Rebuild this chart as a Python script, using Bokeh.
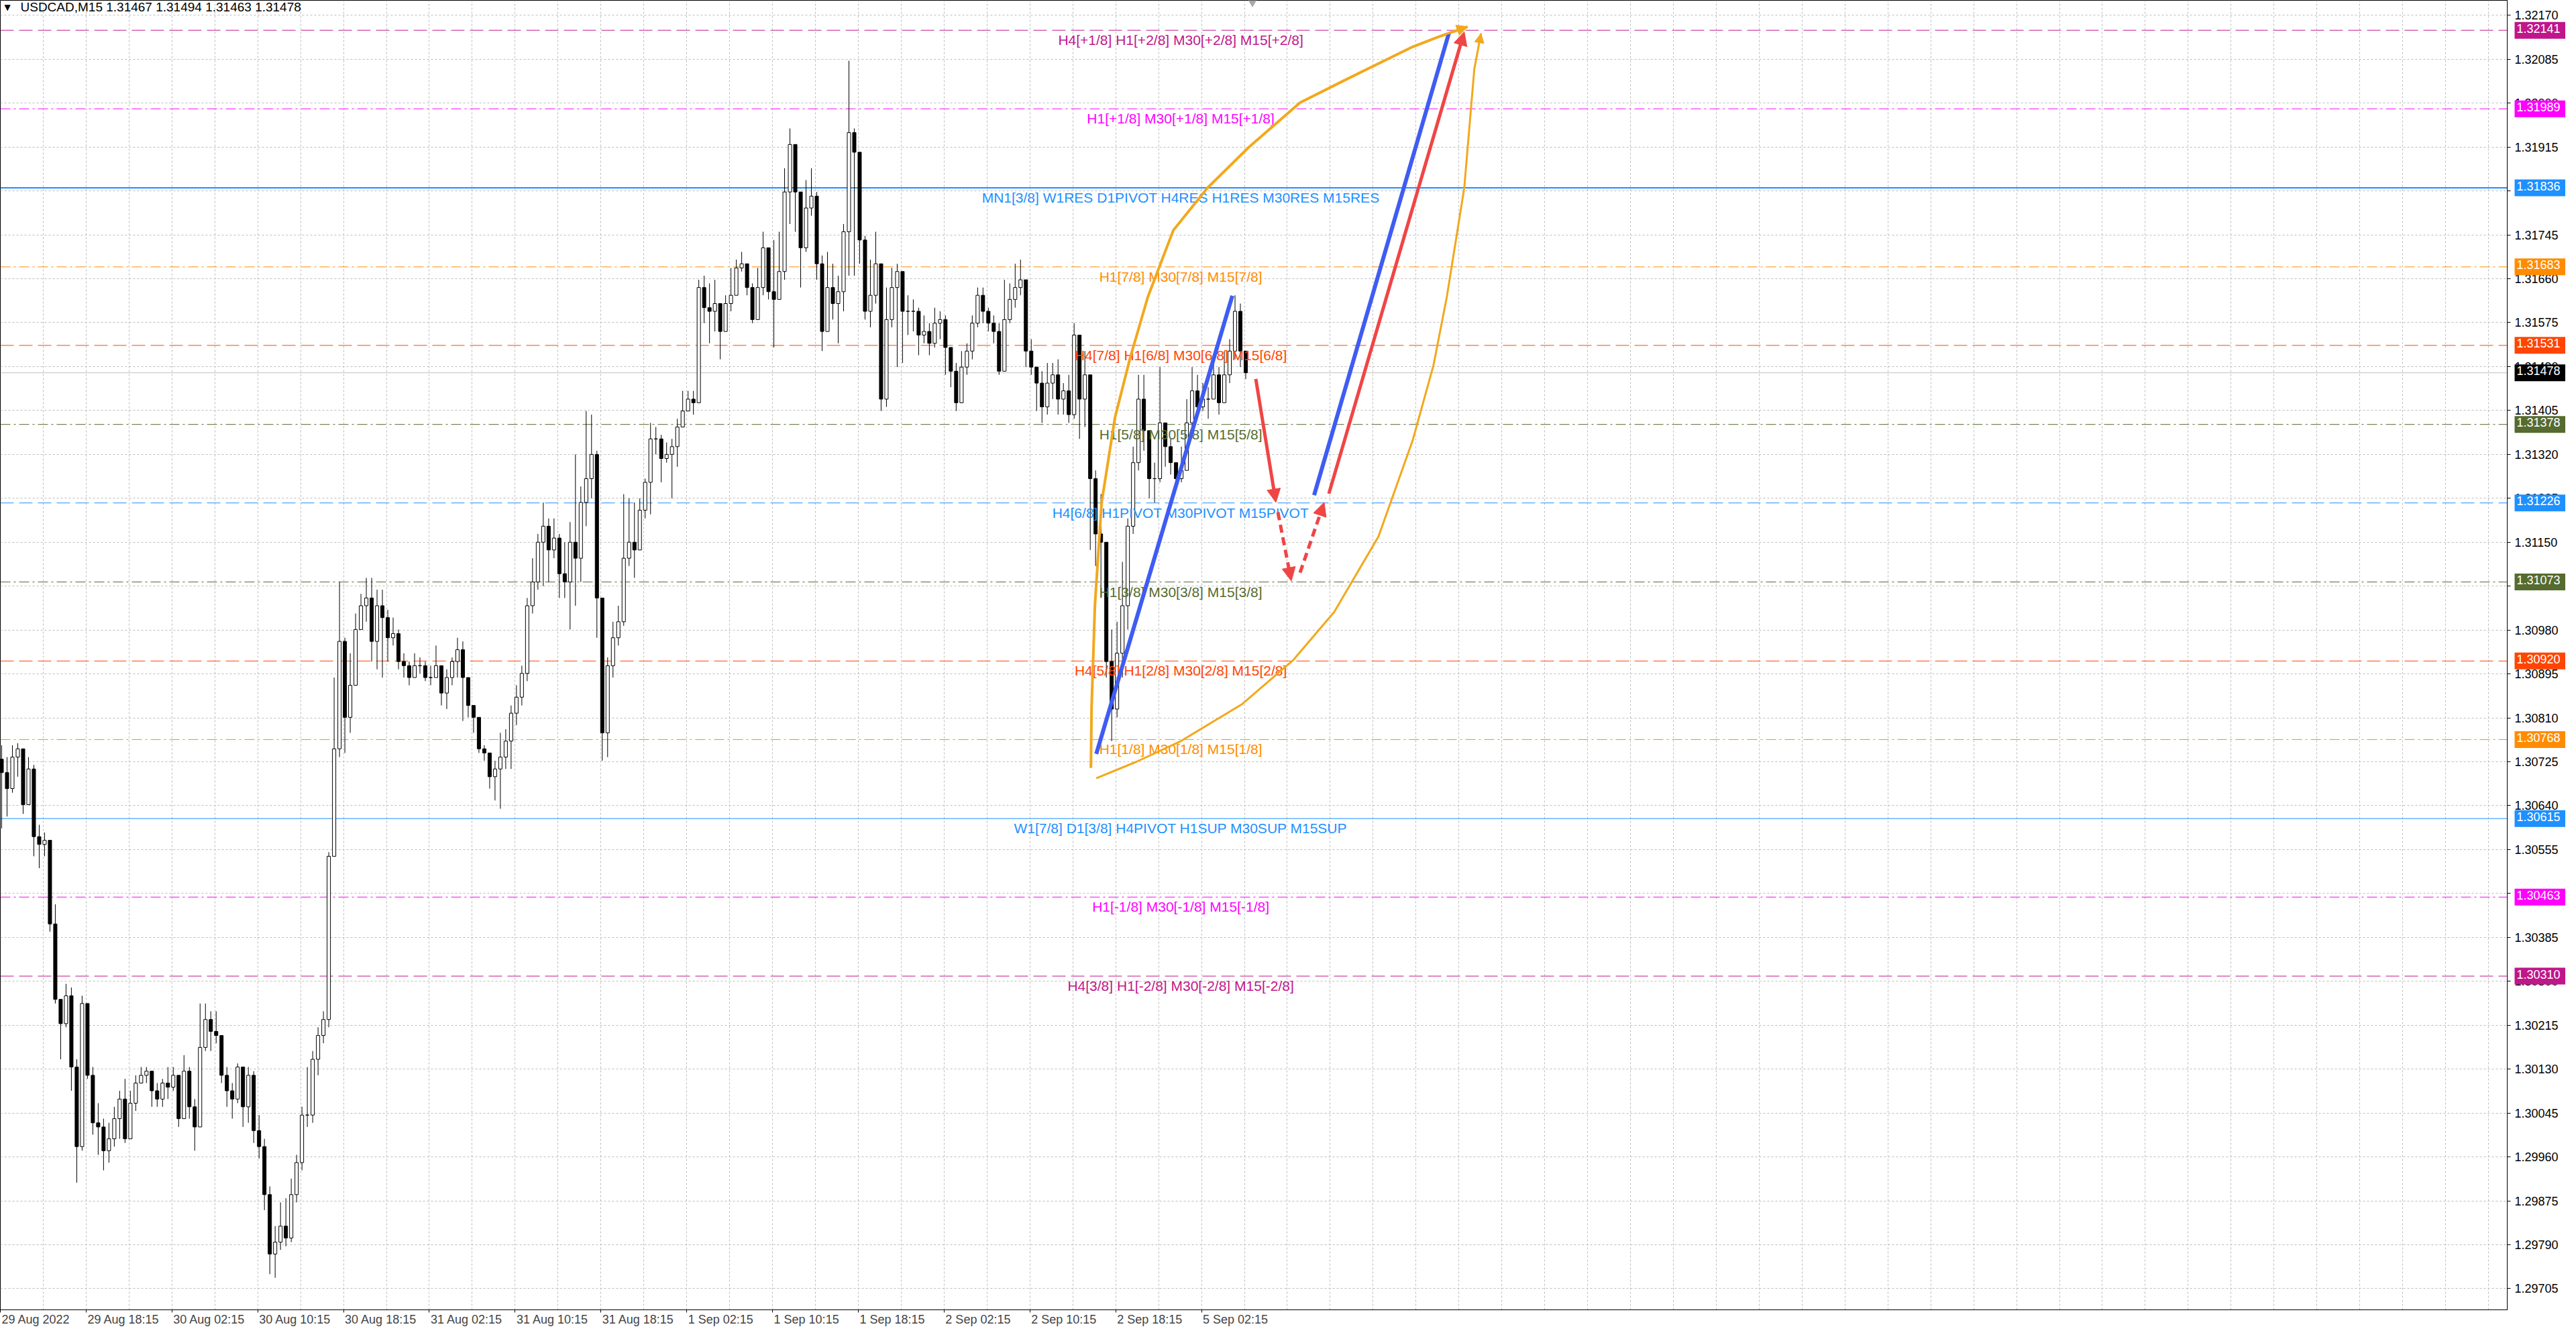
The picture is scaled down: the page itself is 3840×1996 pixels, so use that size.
from bokeh.plotting import figure
from bokeh.models import (FixedTicker, PrintfTickFormatter, Label, Arrow, LinearAxis,
                          NormalHead, ColumnDataSource, Range1d, GridBox)
from bokeh.core.properties import value
from bokeh.embed import file_html
from bokeh.resources import INLINE

# ---------------- data ----------------
symbol_title = "USDCAD,M15  1.31467 1.31494 1.31463 1.31478"
bid = 1.31478

opens = [
    1.30730, 1.30704, 1.30673, 1.30734, 1.30750, 1.30642, 1.30711, 1.30580, 1.30565, 1.30573,
    1.30411, 1.30265, 1.30218, 1.30272, 1.30134, 1.29980, 1.30257, 1.30118, 1.30026, 1.30018,
    1.29972, 1.29995, 1.30034, 1.30072, 1.29995, 1.30064, 1.30103, 1.30118, 1.30126, 1.30088,
    1.30072, 1.30103, 1.30095, 1.30118, 1.30034, 1.30126, 1.30057, 1.30018, 1.30172, 1.30226,
    1.30203, 1.30195, 1.30118, 1.30088, 1.30072, 1.30134, 1.30057, 1.30118, 1.30011, 1.29980,
    1.29887, 1.29772, 1.29795, 1.29826, 1.29803, 1.29887, 1.29949, 1.30041, 1.30041, 1.30149,
    1.30195, 1.30226, 1.30542, 1.30750, 1.30958, 1.30811, 1.30873, 1.30981, 1.31027, 1.31042,
    1.30958, 1.31027, 1.31004, 1.30965, 1.30973, 1.30919, 1.30911, 1.30888, 1.30911, 1.30911,
    1.30888, 1.30888, 1.30911, 1.30858, 1.30888, 1.30919, 1.30942, 1.30888, 1.30834, 1.30811,
    1.30750, 1.30742, 1.30696, 1.30711, 1.30734, 1.30765, 1.30819, 1.30850, 1.30896, 1.31027,
    1.31073, 1.31150, 1.31181, 1.31135, 1.31158, 1.31089, 1.31073, 1.31150, 1.31119, 1.31227,
    1.31273, 1.31320, 1.31042, 1.30781, 1.30911, 1.30965, 1.30996, 1.31119, 1.31150, 1.31135,
    1.31212, 1.31266, 1.31350, 1.31350, 1.31312, 1.31320, 1.31335, 1.31373, 1.31404, 1.31427,
    1.31420, 1.31643, 1.31604, 1.31597, 1.31612, 1.31558, 1.31612, 1.31628, 1.31681, 1.31689,
    1.31643, 1.31581, 1.31643, 1.31720, 1.31635, 1.31620, 1.31674, 1.31828, 1.31920, 1.31828,
    1.31720, 1.31797, 1.31820, 1.31689, 1.31558, 1.31643, 1.31612, 1.31635, 1.31751, 1.31943,
    1.31905, 1.31735, 1.31597, 1.31628, 1.31689, 1.31427, 1.31581, 1.31643, 1.31674, 1.31597,
    1.31597, 1.31597, 1.31551, 1.31558, 1.31535, 1.31574, 1.31581, 1.31527, 1.31481, 1.31420,
    1.31489, 1.31520, 1.31574, 1.31628, 1.31597, 1.31574, 1.31558, 1.31481, 1.31581, 1.31620,
    1.31643, 1.31658, 1.31520, 1.31489, 1.31458, 1.31412, 1.31458, 1.31474, 1.31427, 1.31443,
    1.31397, 1.31551, 1.31427, 1.31474, 1.31273, 1.31166, 1.31150, 1.30919, 1.30827, 1.30935,
    1.31027, 1.31181, 1.31304, 1.31427, 1.31366, 1.31273, 1.31273, 1.31381, 1.31335, 1.31304,
    1.31273, 1.31289, 1.31381, 1.31443, 1.31412, 1.31427, 1.31427, 1.31474, 1.31420, 1.31474,
    1.31520, 1.31597, 1.31520,
]
highs = [
    1.30757, 1.30734, 1.30757, 1.30761, 1.30719, 1.30734, 1.30719, 1.30603, 1.30588, 1.30573,
    1.30449, 1.30257, 1.30295, 1.30288, 1.30149, 1.30272, 1.30257, 1.30134, 1.30064, 1.30034,
    1.30026, 1.30057, 1.30088, 1.30111, 1.30088, 1.30118, 1.30134, 1.30134, 1.30118, 1.30103,
    1.30111, 1.30134, 1.30134, 1.30111, 1.30157, 1.30134, 1.30072, 1.30257, 1.30257, 1.30242,
    1.30242, 1.30195, 1.30134, 1.30103, 1.30141, 1.30134, 1.30134, 1.30126, 1.30041, 1.29995,
    1.29903, 1.29826, 1.29872, 1.29880, 1.29918, 1.29964, 1.30057, 1.30134, 1.30165, 1.30211,
    1.30242, 1.30550, 1.30888, 1.31073, 1.30965, 1.30935, 1.31012, 1.31050, 1.31081, 1.31081,
    1.31058, 1.31058, 1.31019, 1.31004, 1.30981, 1.30935, 1.30919, 1.30935, 1.30927, 1.30919,
    1.30911, 1.30950, 1.30911, 1.30904, 1.30927, 1.30965, 1.30958, 1.30873, 1.30834, 1.30811,
    1.30757, 1.30742, 1.30727, 1.30781, 1.30788, 1.30834, 1.30873, 1.30911, 1.31042, 1.31119,
    1.31166, 1.31227, 1.31196, 1.31196, 1.31166, 1.31150, 1.31189, 1.31320, 1.31258, 1.31404,
    1.31397, 1.31327, 1.30965, 1.30927, 1.30996, 1.31027, 1.31243, 1.31235, 1.31227, 1.31235,
    1.31273, 1.31381, 1.31373, 1.31358, 1.31343, 1.31350, 1.31389, 1.31443, 1.31443, 1.31443,
    1.31658, 1.31666, 1.31651, 1.31658, 1.31604, 1.31628, 1.31681, 1.31697, 1.31712, 1.31689,
    1.31651, 1.31681, 1.31751, 1.31705, 1.31735, 1.31751, 1.31874, 1.31951, 1.31920, 1.31828,
    1.31851, 1.31874, 1.31828, 1.31705, 1.31712, 1.31689, 1.31666, 1.31766, 1.32082, 1.31951,
    1.31835, 1.31743, 1.31697, 1.31751, 1.31689, 1.31643, 1.31681, 1.31689, 1.31666, 1.31628,
    1.31620, 1.31604, 1.31589, 1.31574, 1.31604, 1.31597, 1.31589, 1.31527, 1.31497, 1.31520,
    1.31535, 1.31589, 1.31643, 1.31643, 1.31604, 1.31589, 1.31574, 1.31658, 1.31651, 1.31689,
    1.31697, 1.31643, 1.31543, 1.31489, 1.31481, 1.31497, 1.31497, 1.31504, 1.31458, 1.31474,
    1.31574, 1.31535, 1.31520, 1.31474, 1.31289, 1.31243, 1.31119, 1.30981, 1.30996, 1.31112,
    1.31196, 1.31335, 1.31474, 1.31474, 1.31350, 1.31304, 1.31489, 1.31381, 1.31350, 1.31304,
    1.31335, 1.31427, 1.31489, 1.31474, 1.31458, 1.31450, 1.31497, 1.31489, 1.31520, 1.31543,
    1.31628, 1.31612, 1.31520,
]
lows = [
    1.30596, 1.30619, 1.30665, 1.30696, 1.30624, 1.30650, 1.30542, 1.30519, 1.30542, 1.30396,
    1.30257, 1.30149, 1.30211, 1.30088, 1.29910, 1.29972, 1.30111, 1.30003, 1.29964, 1.29934,
    1.29949, 1.29980, 1.29995, 1.29987, 1.30003, 1.30049, 1.30103, 1.30103, 1.30057, 1.30057,
    1.30057, 1.30072, 1.30088, 1.30018, 1.30034, 1.30034, 1.29972, 1.30018, 1.30165, 1.30165,
    1.30180, 1.30103, 1.30057, 1.30034, 1.30064, 1.30018, 1.30026, 1.29987, 1.29957, 1.29857,
    1.29733, 1.29726, 1.29780, 1.29787, 1.29795, 1.29872, 1.29934, 1.30018, 1.30026, 1.30118,
    1.30180, 1.30211, 1.30550, 1.30734, 1.30742, 1.30781, 1.30873, 1.30981, 1.30996, 1.30919,
    1.30904, 1.30888, 1.30919, 1.30950, 1.30904, 1.30888, 1.30873, 1.30896, 1.30896, 1.30881,
    1.30873, 1.30888, 1.30834, 1.30827, 1.30873, 1.30888, 1.30804, 1.30811, 1.30781, 1.30742,
    1.30727, 1.30673, 1.30650, 1.30634, 1.30711, 1.30711, 1.30796, 1.30834, 1.30881, 1.31012,
    1.31058, 1.31065, 1.31073, 1.31119, 1.31042, 1.31042, 1.30981, 1.31027, 1.31073, 1.31181,
    1.31235, 1.30965, 1.30727, 1.30734, 1.30888, 1.30950, 1.30988, 1.31104, 1.31081, 1.31150,
    1.31196, 1.31204, 1.31320, 1.31266, 1.31304, 1.31235, 1.31296, 1.31381, 1.31404, 1.31397,
    1.31427, 1.31574, 1.31535, 1.31558, 1.31504, 1.31566, 1.31597, 1.31643, 1.31674, 1.31628,
    1.31574, 1.31597, 1.31628, 1.31620, 1.31527, 1.31643, 1.31658, 1.31766, 1.31751, 1.31643,
    1.31712, 1.31782, 1.31658, 1.31520, 1.31589, 1.31581, 1.31535, 1.31597, 1.31666, 1.31666,
    1.31689, 1.31581, 1.31566, 1.31612, 1.31404, 1.31412, 1.31566, 1.31489, 1.31497, 1.31551,
    1.31558, 1.31512, 1.31535, 1.31512, 1.31527, 1.31543, 1.31474, 1.31450, 1.31404, 1.31450,
    1.31474, 1.31504, 1.31566, 1.31574, 1.31558, 1.31535, 1.31474, 1.31481, 1.31574, 1.31604,
    1.31628, 1.31489, 1.31474, 1.31404, 1.31381, 1.31397, 1.31427, 1.31397, 1.31397, 1.31381,
    1.31389, 1.31350, 1.31373, 1.31135, 1.31104, 1.31042, 1.30888, 1.30765, 1.30811, 1.30888,
    1.30981, 1.31166, 1.31289, 1.31327, 1.31235, 1.31227, 1.31266, 1.31296, 1.31281, 1.31258,
    1.31266, 1.31296, 1.31366, 1.31397, 1.31404, 1.31389, 1.31427, 1.31397, 1.31427, 1.31458,
    1.31504, 1.31489, 1.31466,
]
closes = [
    1.30704, 1.30673, 1.30734, 1.30750, 1.30642, 1.30711, 1.30580, 1.30565, 1.30573, 1.30411,
    1.30265, 1.30218, 1.30272, 1.30134, 1.29980, 1.30257, 1.30118, 1.30026, 1.30018, 1.29972,
    1.29995, 1.30034, 1.30072, 1.29995, 1.30064, 1.30103, 1.30118, 1.30126, 1.30088, 1.30072,
    1.30103, 1.30095, 1.30118, 1.30034, 1.30126, 1.30057, 1.30018, 1.30172, 1.30226, 1.30203,
    1.30195, 1.30118, 1.30088, 1.30072, 1.30134, 1.30057, 1.30118, 1.30011, 1.29980, 1.29887,
    1.29772, 1.29795, 1.29826, 1.29803, 1.29887, 1.29949, 1.30041, 1.30041, 1.30149, 1.30195,
    1.30226, 1.30542, 1.30750, 1.30958, 1.30811, 1.30873, 1.30981, 1.31027, 1.31042, 1.30958,
    1.31027, 1.31004, 1.30965, 1.30973, 1.30919, 1.30911, 1.30888, 1.30911, 1.30911, 1.30888,
    1.30888, 1.30911, 1.30858, 1.30888, 1.30919, 1.30942, 1.30888, 1.30834, 1.30811, 1.30750,
    1.30742, 1.30696, 1.30711, 1.30734, 1.30765, 1.30819, 1.30850, 1.30896, 1.31027, 1.31073,
    1.31150, 1.31181, 1.31135, 1.31158, 1.31089, 1.31073, 1.31150, 1.31119, 1.31227, 1.31273,
    1.31320, 1.31042, 1.30781, 1.30911, 1.30965, 1.30996, 1.31119, 1.31150, 1.31135, 1.31212,
    1.31266, 1.31350, 1.31350, 1.31312, 1.31320, 1.31335, 1.31373, 1.31404, 1.31427, 1.31420,
    1.31643, 1.31604, 1.31597, 1.31612, 1.31558, 1.31612, 1.31628, 1.31681, 1.31689, 1.31643,
    1.31581, 1.31643, 1.31720, 1.31635, 1.31620, 1.31674, 1.31828, 1.31920, 1.31828, 1.31720,
    1.31797, 1.31820, 1.31689, 1.31558, 1.31643, 1.31612, 1.31635, 1.31751, 1.31943, 1.31905,
    1.31735, 1.31597, 1.31628, 1.31689, 1.31427, 1.31581, 1.31643, 1.31674, 1.31597, 1.31597,
    1.31597, 1.31551, 1.31558, 1.31535, 1.31574, 1.31581, 1.31527, 1.31481, 1.31420, 1.31489,
    1.31520, 1.31574, 1.31628, 1.31597, 1.31574, 1.31558, 1.31481, 1.31581, 1.31620, 1.31643,
    1.31658, 1.31520, 1.31489, 1.31458, 1.31412, 1.31458, 1.31474, 1.31427, 1.31443, 1.31397,
    1.31551, 1.31427, 1.31474, 1.31273, 1.31166, 1.31150, 1.30919, 1.30827, 1.30935, 1.31027,
    1.31181, 1.31304, 1.31427, 1.31366, 1.31273, 1.31273, 1.31381, 1.31335, 1.31304, 1.31273,
    1.31289, 1.31381, 1.31443, 1.31412, 1.31427, 1.31427, 1.31474, 1.31420, 1.31474, 1.31520,
    1.31597, 1.31520, 1.31478,
]

price_ticks = [
    1.29705, 1.29790, 1.29875, 1.29960, 1.30045, 1.30130, 1.30215, 1.30300, 1.30385, 1.30470,
    1.30555, 1.30640, 1.30725, 1.30810, 1.30895, 1.30980, 1.31065, 1.31150, 1.31235, 1.31320,
    1.31405, 1.31490, 1.31575, 1.31660, 1.31745, 1.31830, 1.31915, 1.32000, 1.32085, 1.32170,
]
time_labels = [
    "29 Aug 2022", "29 Aug 18:15", "30 Aug 02:15", "30 Aug 10:15", "30 Aug 18:15",
    "31 Aug 02:15", "31 Aug 10:15", "31 Aug 18:15", "1 Sep 02:15", "1 Sep 10:15",
    "1 Sep 18:15", "2 Sep 02:15", "2 Sep 10:15", "2 Sep 18:15", "5 Sep 02:15",
]

level_prices = [1.32141, 1.31989, 1.31836, 1.31683, 1.31531, 1.31378, 1.31226,
                1.31073, 1.30920, 1.30768, 1.30615, 1.30463, 1.30310]
level_labels = [
    "H4[+1/8] H1[+2/8] M30[+2/8] M15[+2/8]",
    "H1[+1/8] M30[+1/8] M15[+1/8]",
    "MN1[3/8] W1RES D1PIVOT H4RES H1RES M30RES M15RES",
    "H1[7/8] M30[7/8] M15[7/8]",
    "H4[7/8] H1[6/8] M30[6/8] M15[6/8]",
    "H1[5/8] M30[5/8] M15[5/8]",
    "H4[6/8] H1PIVOT M30PIVOT M15PIVOT",
    "H1[3/8] M30[3/8] M15[3/8]",
    "H4[5/8] H1[2/8] M30[2/8] M15[2/8]",
    "H1[1/8] M30[1/8] M15[1/8]",
    "W1[7/8] D1[3/8] H4PIVOT H1SUP M30SUP M15SUP",
    "H1[-1/8] M30[-1/8] M15[-1/8]",
    "H4[3/8] H1[-2/8] M30[-2/8] M15[-2/8]",
]
level_colors = ["#C0168A", "#FF00FF", "#1E90FF", "#FF8C00", "#FF4500", "#556B2F", "#1E90FF",
                "#556B2F", "#FF4500", "#FF8C00", "#1E90FF", "#FF00FF", "#C0168A"]
level_styles = ["dash", "dashdot", "solid", "dashdot", "dash", "dashdot", "dash",
                "dashdot", "dash", "dashdot", "solid", "dashdot", "dash"]
level_widths = [1, 1, 2, 1, 1, 1, 1, 1, 1, 1, 1, 1, 1]

# hand-drawn objects (bar index, price)
arc_left_bar = [406.75, 407.0, 408.25, 410.75, 415.75, 421.5, 428.0, 437.5, 450.25,
                465.5, 484.75, 501.25, 526.75, 536.25, 547.25]
arc_left_price = [1.30713, 1.30830, 1.31028, 1.31227, 1.31392, 1.31509, 1.31625, 1.31754,
                  1.31836, 1.31914, 1.32001, 1.32044, 1.32109, 1.32128, 1.32148]
arc_right_bar = [408.75, 423.75, 440.0, 463.0, 482.25, 497.5, 514.0, 526.75, 534.5,
                 539.5, 546.0, 549.75, 552.25]
arc_right_price = [1.30693, 1.30725, 1.30764, 1.30836, 1.30922, 1.31015, 1.31161, 1.31347,
                   1.31492, 1.31625, 1.31836, 1.32066, 1.32135]
blue_a_bar, blue_a_price = [408.75, 459.5], [1.30740, 1.31627]
blue_b_bar, blue_b_price = [490.0, 540.25], [1.31241, 1.32135]
red_solid_down = ([468.25, 475.75], [1.31466, 1.31227])
red_dash_down = ([476.5, 481.5], [1.31208, 1.31075])
red_dash_up = ([484.75, 493.75], [1.31091, 1.31227])
red_solid_up = ([495.5, 546.0], [1.31244, 1.32138])
label_bar = 440.25
shift_marker_bar = 467

# ---------------- geometry ----------------
FONT = "Liberation Sans"
W, H = 3824, 1980
RB, BB = 87, 28                # right / bottom border (axes)
FW, FH = W - RB, H - BB         # frame size
X0, X1 = 0, 935
Y0, Y1 = 1.29664, 1.32199

p = figure(width=W, height=H, output_backend="svg", toolbar_location=None,
           x_range=Range1d(X0, X1), y_range=Range1d(Y0, Y1),
           y_axis_location="right", min_border_left=0, min_border_top=0,
           min_border_right=RB, min_border_bottom=BB)
p.background_fill_color = "white"
p.border_fill_color = "white"
p.outline_line_color = "black"
p.outline_line_width = 1

# grid
p.xgrid.ticker = FixedTicker(ticks=list(range(0, 936, 16)))
for g in (p.xgrid, p.ygrid):
    g.grid_line_color = "#BDBDBD"
    g.grid_line_dash = "3 3"
    g.grid_line_width = 1

# y axis (right)
p.yaxis.ticker = FixedTicker(ticks=price_ticks)
p.yaxis.formatter = PrintfTickFormatter(format="%.5f")
p.yaxis.major_label_text_font = FONT
p.yaxis.major_label_text_font_size = "18px"
p.yaxis.major_label_text_color = "black"
p.yaxis.major_tick_in = 0
p.yaxis.major_tick_out = 5
p.yaxis.minor_tick_line_color = None
p.yaxis.major_label_standoff = 6
p.yaxis.axis_line_color = "black"

# x axis: tick marks at the label starts, labels on a second (label-only) axis
tick_pos = [32 * k for k in range(len(time_labels))]
p.xaxis.ticker = FixedTicker(ticks=tick_pos)
p.xaxis.major_label_overrides = {t: "" for t in tick_pos}
p.xaxis.major_label_text_font_size = "1px"
p.xaxis.major_label_standoff = 0
p.xaxis.major_tick_in = 0
p.xaxis.major_tick_out = 4
p.xaxis.minor_tick_line_color = None
p.xaxis.axis_line_color = "black"

# Arial/Liberation advance widths (1/1000 em) to left-align labels at their tick
adv = {c: 556 for c in "0123456789"}
adv.update({" ": 278, ":": 278, "A": 667, "S": 667, "u": 556, "g": 556, "e": 556, "p": 556})
px_per_bar = FW / (X1 - X0)
label_pos = [t + (2 + 18 * sum(adv.get(ch, 556) for ch in s) / 1000 / 2) / px_per_bar
             for t, s in zip(tick_pos, time_labels)]
lab_axis = LinearAxis(ticker=FixedTicker(ticks=label_pos),
                      major_label_overrides={lp: s for lp, s in zip(label_pos, time_labels)},
                      major_label_text_font=FONT, major_label_text_font_size="18px",
                      major_label_standoff=0, major_tick_in=0, major_tick_out=0,
                      minor_tick_line_color=None, axis_line_color=None)
p.add_layout(lab_axis, "below")

# level lines (under candles)
dash_map = {"dash": "20 8", "dashdot": "15 5 3 5", "solid": "solid"}
for lp, lc, ls, lw in zip(level_prices, level_colors, level_styles, level_widths):
    p.segment(x0=[X0], x1=[X1], y0=[lp], y1=[lp], line_color=lc,
              line_dash=dash_map[ls], line_width=lw)
p.segment(x0=[X0], x1=[X1], y0=[bid], y1=[bid], line_color="#C0C0C0", line_width=1)

# candles
n = len(closes)
xs = [2 * j + 0.5 for j in range(n)]
wick_top = [max(h, o, c) for h, o, c in zip(highs, opens, closes)]
wick_bot = [min(l, o, c) for l, o, c in zip(lows, opens, closes)]
src = ColumnDataSource(dict(x=xs, h=wick_top, l=wick_bot,
                            top=[max(o, c) for o, c in zip(opens, closes)],
                            bot=[min(o, c) for o, c in zip(opens, closes)],
                            fill=["white" if c >= o else "black" for o, c in zip(opens, closes)]))
p.segment(x0="x", x1="x", y0="l", y1="h", source=src, line_color="black", line_width=1)
p.vbar(x="x", width=1.25, top="top", bottom="bot", source=src,
       fill_color="fill", line_color="black", line_width=1)

# level texts
p.text(x=[label_bar] * len(level_prices), y=level_prices, text=level_labels,
       text_color=level_colors, text_font=value(FONT), text_font_size="21px",
       text_align="center", text_baseline="top", y_offset=3)

# orange arcs
ORANGE = "#F2A81D"
p.line(arc_left_bar, arc_left_price, line_color=ORANGE, line_width=4, line_join="round")
p.line(arc_right_bar, arc_right_price, line_color=ORANGE, line_width=3, line_join="round")
p.add_layout(Arrow(end=NormalHead(size=16, fill_color=ORANGE, line_color=ORANGE),
                   x_start=arc_left_bar[-2], y_start=arc_left_price[-2],
                   x_end=arc_left_bar[-1], y_end=arc_left_price[-1],
                   line_color=ORANGE, line_width=3))
p.add_layout(Arrow(end=NormalHead(size=14, fill_color=ORANGE, line_color=ORANGE),
                   x_start=arc_right_bar[-2], y_start=arc_right_price[-2],
                   x_end=arc_right_bar[-1], y_end=arc_right_price[-1],
                   line_color=ORANGE, line_width=2))

# blue lines
BLUE = "#3F5CF2"
p.line(blue_a_bar, blue_a_price, line_color=BLUE, line_width=6)
p.line(blue_b_bar, blue_b_price, line_color=BLUE, line_width=6)

# red arrows
RED = "#F04545"
for (bx, py), dash in ((red_solid_down, "solid"), (red_dash_down, "12 7"),
                       (red_dash_up, "12 7"), (red_solid_up, "solid")):
    p.add_layout(Arrow(end=NormalHead(size=20, fill_color=RED, line_color=RED),
                       x_start=bx[0], y_start=py[0], x_end=bx[1], y_end=py[1],
                       line_color=RED, line_width=5, line_dash=dash))

# chart shift marker
p.scatter(x=[shift_marker_bar], y=[1.32197], marker="inverted_triangle", size=14,
          fill_color="#A8A8A8", line_color="#A8A8A8")

# title
p.add_layout(Label(x=6, x_units="screen", y=1.32186, text="▼", text_font="DejaVu Sans",
                   text_font_size="12px", text_baseline="middle", text_color="black"))
p.add_layout(Label(x=30, x_units="screen", y=1.32186, text=symbol_title, text_font=FONT,
                   text_font_size="19px", text_baseline="middle", text_color="black"))

# ---------------- overlay for the price boxes on the right scale ----------------
ov = figure(width=W, height=H, output_backend="svg", toolbar_location=None,
            x_range=Range1d(X0, X0 + (X1 - X0) * W / FW),
            y_range=Range1d(Y0 - BB * (Y1 - Y0) / FH, Y1),
            x_axis_location=None, y_axis_location=None, min_border=0)
if "frame_align" in ov.properties():
    ov.frame_align = False
ov.background_fill_alpha = 0
ov.border_fill_alpha = 0
ov.outline_line_color = None
ov.grid.visible = False
box_prices = level_prices + [bid]
box_colors = level_colors + ["#000000"]
for bp, bc in zip(box_prices, box_colors):
    ov.add_layout(Label(x=X1, y=bp, x_offset=11, text=f"{bp:.5f}", text_color="white",
                        text_font=FONT, text_font_size="18px", text_baseline="middle",
                        background_fill_color=bc, padding=(3, 10, 3, 9)))

layout = GridBox(children=[(p, 0, 0), (ov, 0, 0)])
open("out.html", "w").write(file_html(layout, INLINE))
